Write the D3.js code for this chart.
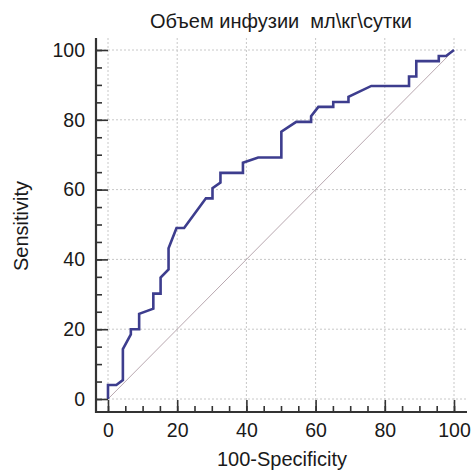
<!DOCTYPE html>
<html>
<head>
<meta charset="utf-8">
<script src="https://cdn.jsdelivr.net/npm/d3@7"></script>
<style>
  body { margin: 0; background: #fff; }
  text { font-family: "Liberation Sans", Arial, sans-serif; fill: #1a1a1a; }
</style>
</head>
<body>
<div id="chart"></div>
<script>
// ROC curve vertices
var fpr = [0, 0, 2.4, 4.3, 4.3, 6.6, 6.6, 9, 9, 13.1, 13.1, 15.2, 15.2, 17.5, 17.5, 19.8, 22, 28.3, 30.2, 30.2,
  32.5, 32.5, 39, 39, 43.4, 50.1, 50.1, 54.4, 58.7, 58.7, 60.8, 65.1, 65.1, 69.5, 69.5, 76.1, 87, 87, 89.1, 89.1,
  95.6, 95.6, 97.7, 100];
var sens = [0, 4, 4, 5.4, 14.3, 18.5, 20, 20, 24.4, 25.9, 30.2, 30.2, 34.8, 37.1, 43.2, 49, 49, 57.5, 57.5, 60.4,
  62, 64.8, 64.8, 67.7, 69.2, 69.2, 76.6, 79.4, 79.4, 81, 83.7, 83.7, 85.1, 85.1, 86.6, 89.7, 89.7, 92.4, 92.4, 96.8,
  96.8, 98.3, 98.3, 100];
var majorTicks = [0, 20, 40, 60, 80, 100];
var minorTicks = d3.range(0, 101, 5);

var title = "Объем инфузии  мл\\кг\\сутки";
var xTitle = "100-Specificity";
var yTitle = "Sensitivity";

var svgWidth = 471;
var svgHeight = 472;

var svg = d3.select("#chart")
  .append("svg")
  .attr("width", svgWidth)
  .attr("height", svgHeight);

var x = d3.scaleLinear().domain([0, 100]).range([108, 454]);
var y = d3.scaleLinear().domain([0, 100]).range([399, 50]);

var axisX = 96;   // y axis line position
var axisY = 412;  // x axis line position

// dotted grid
var grid = svg.append("g")
  .attr("stroke", "#c8c8c8")
  .attr("stroke-width", 1)
  .attr("stroke-dasharray", "2,2");

grid.selectAll("line.v")
  .data(majorTicks)
  .enter()
  .append("line")
  .attr("x1", d => x(d))
  .attr("x2", d => x(d))
  .attr("y1", 38)
  .attr("y2", axisY);

grid.selectAll("line.h")
  .data(majorTicks)
  .enter()
  .append("line")
  .attr("x1", axisX)
  .attr("x2", 467)
  .attr("y1", d => y(d))
  .attr("y2", d => y(d));

// reference diagonal
svg.append("line")
  .attr("x1", x(0))
  .attr("y1", y(0))
  .attr("x2", x(100))
  .attr("y2", y(100))
  .attr("stroke", "#b9a8b0")
  .attr("stroke-width", 1);

// ROC curve
var pts = fpr.map((d, i) => [d, sens[i]]);
var line = d3.line()
  .x(d => x(d[0]))
  .y(d => y(d[1]));

svg.append("path")
  .datum(pts)
  .attr("d", line)
  .attr("fill", "none")
  .attr("stroke", "#3d3d8e")
  .attr("stroke-width", 2.6)
  .attr("stroke-linejoin", "miter");

// axes - ticks point inward
var leftMinor = svg.append("g")
  .attr("transform", `translate(${axisX}, 0)`)
  .call(d3.axisLeft(y).tickValues(minorTicks).tickSize(-6).tickFormat(""));

var leftAxis = svg.append("g")
  .attr("transform", `translate(${axisX}, 0)`)
  .call(d3.axisLeft(y).tickValues(majorTicks).tickSize(-12).tickPadding(11));

var bottomMinor = svg.append("g")
  .attr("transform", `translate(0, ${axisY})`)
  .call(d3.axisBottom(x).tickValues(minorTicks).tickSize(-6).tickFormat(""));

var bottomAxis = svg.append("g")
  .attr("transform", `translate(0, ${axisY})`)
  .call(d3.axisBottom(x).tickValues(majorTicks).tickSize(-12).tickPadding(11));

svg.selectAll(".domain").remove();
svg.selectAll(".tick line")
  .attr("stroke", "#333")
  .attr("stroke-width", 1.6);
svg.selectAll(".tick text")
  .style("font-size", "19.5px")
  .attr("fill", "#1a1a1a");

// axis lines
svg.append("line")
  .attr("x1", axisX).attr("x2", axisX)
  .attr("y1", 38).attr("y2", axisY + 1)
  .attr("stroke", "#333")
  .attr("stroke-width", 2.2);

svg.append("line")
  .attr("x1", axisX - 1).attr("x2", 467)
  .attr("y1", axisY).attr("y2", axisY)
  .attr("stroke", "#333")
  .attr("stroke-width", 2.2);

// titles
svg.append("text")
  .attr("x", 281)
  .attr("y", 28)
  .attr("text-anchor", "middle")
  .style("font-size", "20px")
  .style("white-space", "pre")
  .text(title);

svg.append("text")
  .attr("x", 282)
  .attr("y", 466)
  .attr("text-anchor", "middle")
  .style("font-size", "20px")
  .text(xTitle);

svg.append("text")
  .attr("transform", "translate(28, 226) rotate(-90)")
  .attr("text-anchor", "middle")
  .style("font-size", "20px")
  .text(yTitle);
</script>
</body>
</html>
